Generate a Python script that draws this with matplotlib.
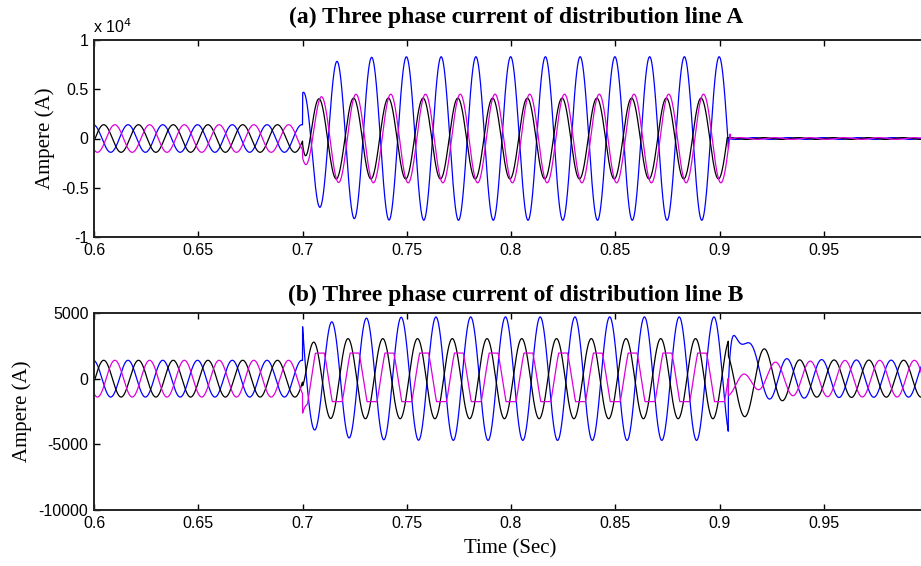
import numpy as np
import matplotlib.pyplot as plt

plt.rcParams['axes.unicode_minus'] = False

# simulation time base (s)
t_start, t_end, dt = 0.6, 1.0, 5e-5
f_sys = 60.0
t_fault = 0.7

phase_colors = ['#0000FF', '#000000', '#DD00DD']

# healthy load current, same on both feeders
pre_amp = [1400, 1400, 1400]
pre_peak = [-0.02, 0.28, 0.60]          # crest position inside the cycle

# feeder A : fault current, then breaker open
fault_amp_a = [8300, 4100, 4500]
fault_peak_a = [-0.01, 0.47, 0.54]
fault_amp0_a = [4620, 500, 2000]        # crest size in the first half cycle
fault_tau_a = [0.008, 0.002, 0.004]
clear_a = [0.9043, 0.9036, 0.9051]
post_amp_a = [90, 90, 90]

# feeder B : fault current, then recovery
fault_amp_b = [4700, 3050, 2800]
fault_peak_b = [0.84, 0.31, 0.50]
fault_amp0_b = [3500, 1500, 2800]
fault_tau_b = [0.012, 0.003, 0.001]
fault_kick_b = [2200, 0, -900]
fault_clip_b = [None, None, (-1750, 1950)]
clear_b = [0.9042, 0.9042, 0.9042]
post_amp_b = [1400, 1400, 1400]
post_peak_b = [-0.06, 0.30, 0.61]
post_amp0_b = [1900, 2400, 0]
post_tau_b = [0.02, 0.015, 0.012]
# decaying swing right after the breaker: size, decay, freq, angle
swing_b = [(37700, 0.003, 20, -np.pi / 2),
           (2810, 0.0108, 40, 1.76),
           (-1300, 0.008, 25, 0.0)]

t = np.arange(t_start, t_end + dt, dt)


def wave(amp, peak, tt):
    return amp * np.cos(2 * np.pi * (f_sys * tt - peak))


def ramp(a_end, a_start, tau, d):
    return a_end + (a_start - a_end) * np.exp(-d / tau)


def feeder_a(k):
    d = np.clip(t - t_fault, 0, None)
    i_pre = wave(pre_amp[k], pre_peak[k], t)
    i_flt = wave(ramp(fault_amp_a[k], fault_amp0_a[k], fault_tau_a[k], d), fault_peak_a[k], t)
    i_post = wave(post_amp_a[k], pre_peak[k], t)
    return np.where(t < t_fault, i_pre, np.where(t < clear_a[k], i_flt, i_post))


def feeder_b(k):
    d = np.clip(t - t_fault, 0, None)
    i_pre = wave(pre_amp[k], pre_peak[k], t)
    i_flt = wave(ramp(fault_amp_b[k], fault_amp0_b[k], fault_tau_b[k], d), fault_peak_b[k], t)
    if fault_clip_b[k] is not None:
        i_flt = np.clip(i_flt, *fault_clip_b[k])
    i_flt = i_flt + fault_kick_b[k] * np.exp(-d / 0.0015)
    dc = np.clip(t - clear_b[k], 0, None)
    i_post = wave(ramp(post_amp_b[k], post_amp0_b[k], post_tau_b[k], dc), post_peak_b[k], t)
    s_amp, s_tau, s_f, s_ang = swing_b[k]
    i_post = i_post + s_amp * np.exp(-dc / s_tau) * np.cos(2 * np.pi * s_f * dc + s_ang)
    return np.where(t < t_fault, i_pre, np.where(t < clear_b[k], i_flt, i_post))


fig = plt.figure(figsize=(9.21, 5.66), dpi=100)
W, H = 921.0, 566.0
ax1 = fig.add_axes([94 / W, 1 - 237 / H, (928 - 94) / W, (237 - 40) / H])
ax2 = fig.add_axes([94 / W, 1 - 510 / H, (928 - 94) / W, (510 - 313) / H])

for k in range(3):
    ax1.plot(t, feeder_a(k) / 1e4, color=phase_colors[k], lw=0.9)
    ax2.plot(t, feeder_b(k), color=phase_colors[k], lw=0.9)

serif = 'Liberation Serif'
sans = 'Liberation Sans'

xt = [0.6, 0.65, 0.7, 0.75, 0.8, 0.85, 0.9, 0.95]
for ax in (ax1, ax2):
    ax.set_xlim(0.6, 1.0)
    ax.set_xticks(xt)
    ax.set_xticklabels([f'{v:g}' for v in xt], fontfamily=sans, fontsize=11.5)
    ax.tick_params(direction='in', length=4.5, width=1.0, top=True, right=True, pad=4)
    for s in ax.spines.values():
        s.set_linewidth(1.4)
        s.set_color('#222222')

ax1.set_ylim(-1, 1)
ax1.set_yticks([-1, -0.5, 0, 0.5, 1])
ax1.set_yticklabels(['-1', '-0.5', '0', '0.5', '1'], fontfamily=sans, fontsize=11.5)
ax1.text(-0.001, 1.035, 'x 10$^4$', transform=ax1.transAxes, fontfamily=sans,
         fontsize=11.5, ha='left', va='baseline')

ax2.set_ylim(-10000, 5000)
ax2.set_yticks([-10000, -5000, 0, 5000])
ax2.set_yticklabels(['-10000', '-5000', '0', '5000'], fontfamily=sans, fontsize=11.5)

ax1.set_title('(a) Three phase current of distribution line A', fontfamily=serif,
              fontweight='bold', fontsize=17, pad=12, x=0.506)
ax2.set_title('(b) Three phase current of distribution line B', fontfamily=serif,
              fontweight='bold', fontsize=17, pad=8.5, x=0.506)

for ax, xpos in ((ax1, -0.059), (ax2, -0.086)):
    ax.set_ylabel('Ampere (A)', fontfamily=serif, fontsize=15)
    ax.yaxis.set_label_coords(xpos, 0.5)
    ax.yaxis.label.set_va('center')

fig.text(510 / W, 1 - 549 / H, 'Time (Sec)', fontfamily=serif, fontsize=15,
         ha='center', va='center')

fig.savefig('out.png', dpi=100)
